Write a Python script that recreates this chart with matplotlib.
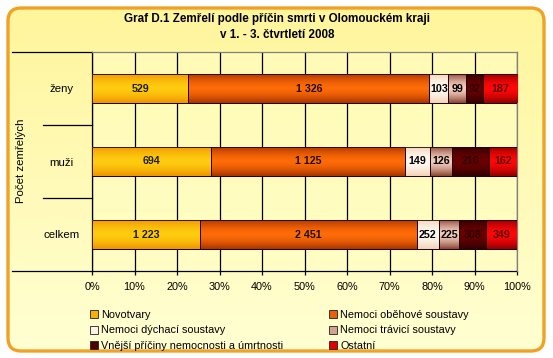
# -*- coding: utf-8 -*-
import numpy as np
import matplotlib
matplotlib.use('Agg')
import matplotlib.pyplot as plt
from matplotlib.patches import FancyBboxPatch, Rectangle
from matplotlib.colors import to_rgb
import matplotlib.transforms as mtransforms

# data
categories = ['celkem', 'muži', 'ženy']   # bottom -> top
series = ['Novotvary', 'Nemoci oběhové soustavy', 'Nemoci dýchací soustavy',
          'Nemoci trávicí soustavy', 'Vnější příčiny nemocnosti a úmrtnosti', 'Ostatní']
novotvary = [1223, 694, 529]
obehove = [2451, 1125, 1326]
dychaci = [252, 149, 103]
travici = [225, 126, 99]
vnejsi = [308, 216, 92]
ostatni = [349, 162, 187]
values = np.array([novotvary, obehove, dychaci, travici, vnejsi, ostatni], dtype=float)
xticks = np.arange(0, 101, 10)

# colours: (edge of bar, middle of bar, legend, label text)
styles = [('#EE9400', '#FFCC10', '#F7B000', '#202000'),
          ('#A83400', '#FF6C08', '#E8600A', '#201000'),
          ('#F2D2B8', '#FFFAF2', '#FFF0E2', '#000000'),
          ('#8A4434', '#F2CCBC', '#D4A090', '#000000'),
          ('#300000', '#6A0000', '#500000', '#300000'),
          ('#900000', '#FF0808', '#E00000', '#600000')]

plt.rcParams['font.family'] = ['Liberation Sans', 'DejaVu Sans']
plt.rcParams['font.size'] = 7.5

W, H = 553, 358
fig = plt.figure(figsize=(W / 100, H / 100), dpi=100)
fig.patch.set_facecolor('white')

# chart area background (pixel coordinates)
bg = fig.add_axes([0, 0, 1, 1])
bg.set_xlim(0, W)
bg.set_ylim(H, 0)
bg.axis('off')
box = FancyBboxPatch((8, 8), 536, 343, boxstyle='round,pad=0,rounding_size=13',
                     facecolor='none', edgecolor='#F2A127', lw=2.4, zorder=3)
bg.add_patch(box)
grad = np.linspace(0, 1, 100)[:, None, None]
top_c, bot_c = np.array(to_rgb('#FFF59C')), np.array(to_rgb('#FFFFD2'))
img = bg.imshow(top_c * (1 - grad) + bot_c * grad, extent=[8, 544, 351, 8],
                aspect='auto', zorder=1)
img.set_clip_path(box)
bg.set_xlim(0, W)
bg.set_ylim(H, 0)

fig.text(277 / W, 1 - 19 / H, 'Graf D.1 Zemřelí podle příčin smrti v Olomouckém kraji',
         ha='center', va='center', fontsize=8.4, fontweight='bold')
fig.text(277 / W, 1 - 35 / H, 'v 1. - 3. čtvrtletí 2008',
         ha='center', va='center', fontsize=8.4, fontweight='bold')

# plot area
ax = fig.add_axes([92 / W, 1 - 271 / H, 425 / W, 219 / H])
ax.set_facecolor('#FFFFC4')
ax.patch.set_alpha(0.6)

pct = values / values.sum(axis=0) * 100
y = np.arange(len(categories))
bh = 0.4
left = np.zeros(len(categories))
handles = []
t = np.linspace(-1, 1, 60)
mix = (1 - np.abs(t) ** 1.6)[:, None, None]
for i, name in enumerate(series):
    edge, mid, legc, txtc = styles[i]
    bars = ax.barh(y, pct[i], left=left, height=bh, color=legc, edgecolor='#200000',
                   lw=0.6, zorder=3, label=name)
    g = np.array(to_rgb(edge)) * (1 - mix) + np.array(to_rgb(mid)) * mix
    for b in bars:
        x0, y0 = b.get_x(), b.get_y()
        im = ax.imshow(g, extent=[x0, x0 + b.get_width(), y0, y0 + b.get_height()],
                       aspect='auto', zorder=3.5, interpolation='bilinear')
        im.set_clip_path(b)
        # obrys nad gradientem
        ax.add_patch(Rectangle((x0, y0), b.get_width(), b.get_height(), fill=False,
                               edgecolor='#200000', lw=0.6, zorder=4))
    for j in range(len(categories)):
        ax.text(left[j] + pct[i][j] / 2, y[j], f'{int(values[i][j]):,}'.replace(',', ' '),
                ha='center', va='center', fontsize=7.7, fontweight='bold', color=txtc, zorder=5)
    handles.append(Rectangle((0, 0), 1, 1, facecolor=legc, edgecolor='#202020', lw=0.6))
    left += pct[i]

ax.set_xlim(0, 100)
ax.set_ylim(-0.5, len(categories) - 0.5)
ax.set_xticks(xticks)
ax.set_xticklabels([f'{v}%' for v in xticks], fontsize=7.8)
ax.grid(axis='x', color='black', lw=0.9, zorder=1)
ax.set_axisbelow(True)
ax.tick_params(axis='x', length=3, width=0.9, pad=5, colors='black')
ax.set_yticks(y)
ax.set_yticklabels(categories, fontsize=8.2)
ax.tick_params(axis='y', length=0, pad=22)
for lab in ax.get_yticklabels():
    lab.set_ha('center')

for s in ['top', 'right']:
    ax.spines[s].set_color('#808080')
    ax.spines[s].set_linewidth(0.9)
ax.spines['left'].set_linewidth(0.9)
ax.spines['bottom'].set_visible(False)

# víceúrovňová osa kategorií
tr = mtransforms.blended_transform_factory(ax.transAxes, ax.transData)
for yy in (y[:-1] + 0.5):
    ax.plot([-49 / 425, 0], [yy, yy], color='black', lw=0.9, transform=tr, clip_on=False)
ax.plot([-80 / 425, 0], [1, 1], color='black', lw=0.9, transform=ax.transAxes, clip_on=False)
ax.plot([-80 / 425, 1], [0, 0], color='black', lw=0.9, transform=ax.transAxes, clip_on=False)

fig.text(21 / W, 1 - 161 / H, 'Počet zemřelých', rotation=90, ha='center', va='center',
         fontsize=8.2)

order = [0, 2, 4, 1, 3, 5]
fig.legend([handles[k] for k in order], [series[k] for k in order], ncol=2,
           loc='upper left', bbox_to_anchor=(90 / W, 1 - 310 / H), frameon=False,
           handlelength=0.75, handleheight=0.75, handletextpad=0.3, labelspacing=0.5,
           columnspacing=4.2, borderaxespad=0, borderpad=0, fontsize=7.8)

fig.savefig('out.png', dpi=100)
